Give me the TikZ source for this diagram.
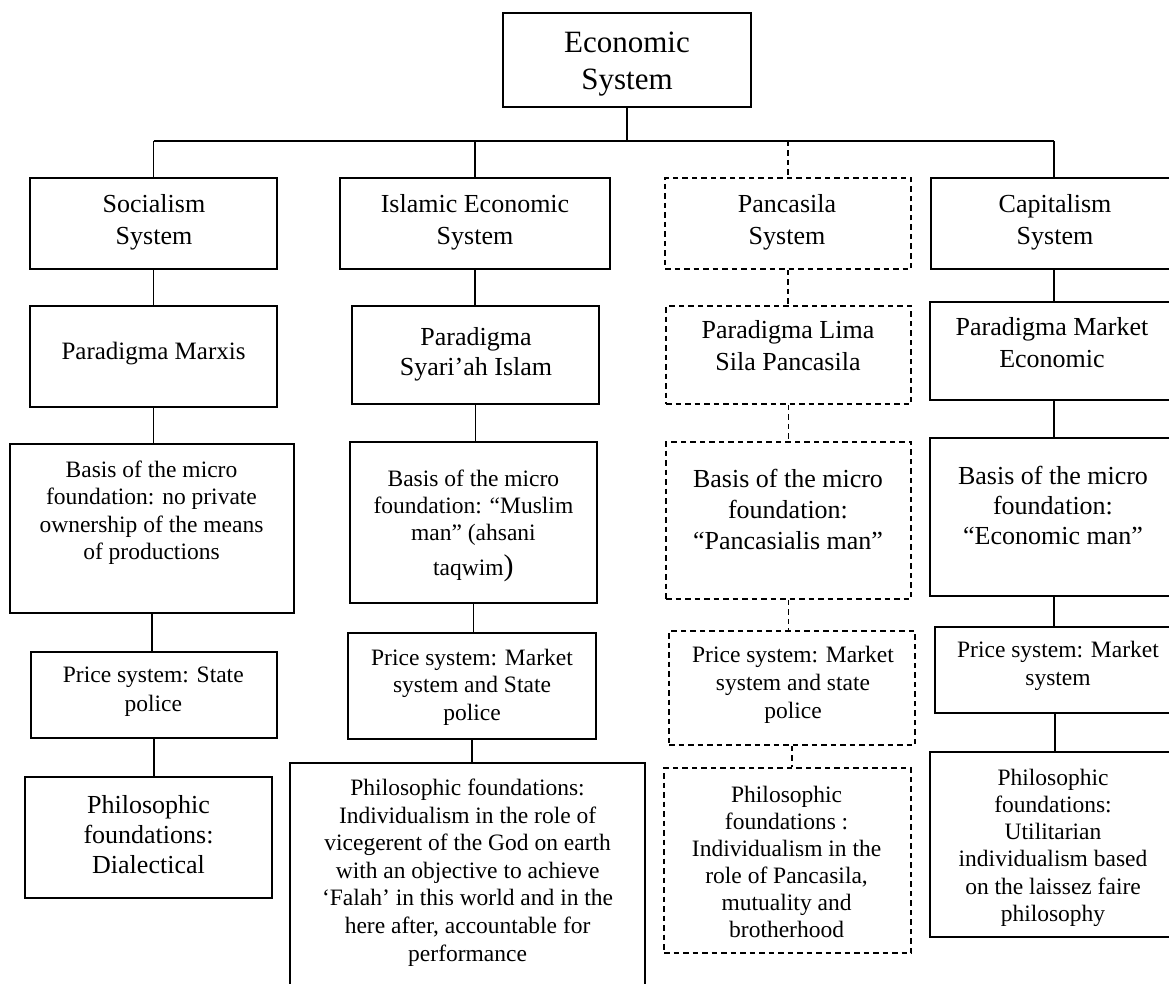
\documentclass[tikz,border=0pt]{standalone}
\usepackage{fontspec}
\setmainfont{Liberation Serif}
\newcommand{\fs}[2]{\fontsize{#1}{#2}\selectfont}
\begin{document}
\begin{tikzpicture}[x=1pt,y=-1pt,
  box/.style={draw, line width=1.5pt, inner sep=0pt, rectangle},
  dbox/.style={box, dash pattern=on 5.5pt off 4pt},
  txt/.style={inner sep=0pt, align=center, anchor=north},
  conn/.style={line width=1.2pt},
  dconn/.style={line width=1.3pt, dash pattern=on 5.5pt off 4pt},
  bus/.style={line width=1.7pt}]
\useasboundingbox (0,0) rectangle (1169,984);
\clip (0,0) rectangle (1169,984);
% boxes
\node[box, minimum width=248pt, minimum height=94pt] (eco) at (627,60) {};
\node[box, minimum width=247pt, minimum height=91pt] (soc1) at (153.5,223.5) {};
\node[box, minimum width=270pt, minimum height=91pt] (isl1) at (475,223.5) {};
\node[dbox, minimum width=246pt, minimum height=91pt] (pan1) at (788,223.5) {};
\node[box, minimum width=246pt, minimum height=91pt] (cap1) at (1054,223.5) {};
\node[box, minimum width=247pt, minimum height=101pt] (soc2) at (153.5,356.5) {};
\node[box, minimum width=247pt, minimum height=98pt] (isl2) at (475.5,355) {};
\node[dbox, minimum width=245pt, minimum height=98pt] (pan2) at (788.5,355) {};
\node[box, minimum width=248pt, minimum height=98pt] (cap2) at (1054,351) {};
\node[box, minimum width=284pt, minimum height=169pt] (soc3) at (152,528.5) {};
\node[box, minimum width=247pt, minimum height=161pt] (isl3) at (473.5,522.5) {};
\node[dbox, minimum width=245pt, minimum height=157pt] (pan3) at (788.5,520.5) {};
\node[box, minimum width=248pt, minimum height=158pt] (cap3) at (1054,517) {};
\node[box, minimum width=246pt, minimum height=86pt] (soc4) at (154,695) {};
\node[box, minimum width=248pt, minimum height=106pt] (isl4) at (472,686) {};
\node[dbox, minimum width=246pt, minimum height=114pt] (pan4) at (792,688) {};
\node[box, minimum width=240pt, minimum height=86pt] (cap4) at (1055,670) {};
\node[box, minimum width=247pt, minimum height=121pt] (soc5) at (148.5,837.5) {};
\node[box, minimum width=355pt, minimum height=237pt] (isl5) at (467.5,881.5) {};
\node[dbox, minimum width=247pt, minimum height=185pt] (pan5) at (787.5,860.5) {};
\node[box, minimum width=248pt, minimum height=185pt] (cap5) at (1054,844.5) {};
% texts
\node[txt, font=\fs{31}{37}] (ecot) at (627,31.6) {Economic\\System};
\node[txt, font=\fs{26}{32}] (soc1t) at (154,194.1) {Socialism\\System};
\node[txt, font=\fs{26}{32}] (isl1t) at (475,194.1) {Islamic Economic\\System};
\node[txt, font=\fs{26}{32}] (pan1t) at (787,194.1) {Pancasila\\System};
\node[txt, font=\fs{26}{32}] (cap1t) at (1055,194.1) {Capitalism\\System};
\node[txt, font=\fs{25}{30}] (soc2t) at (153.5,341.7) {Paradigma Marxis};
\node[txt, font=\fs{26}{30}] (isl2t) at (476,327.1) {Paradigma\\Syari’ah Islam};
\node[txt, font=\fs{26}{32}] (pan2t) at (788,320.1) {Paradigma Lima\\Sila Pancasila};
\node[txt, font=\fs{26}{31.7}] (cap2t) at (1052,317.1) {Paradigma Market\\Economic};
\node[txt, font=\fs{23.5}{27.5}] (soc3t) at (151.5,460.5) {Basis of the micro\\foundation: no private\\ownership of the means\\of productions};
\node[txt, font=\fs{23.5}{27.3}] (isl3t) at (473.4,469.5) {Basis of the micro\\foundation: “Muslim\\man” (ahsani\\[7pt]taqwim{\fs{30}{30})}};
\node[txt, font=\fs{26}{31}] (pan3t) at (788,468.8) {Basis of the micro\\foundation:\\“Pancasialis man”};
\node[txt, font=\fs{26}{29.8}] (cap3t) at (1053,466.4) {Basis of the micro\\foundation:\\“Economic man”};
\node[txt, font=\fs{23.5}{28.4}] (soc4t) at (153.3,667.1) {Price system: State\\police};
\node[txt, font=\fs{23.5}{27.5}] (isl4t) at (472,648.8) {Price system: Market\\system and State\\police};
\node[txt, font=\fs{23.5}{28}] (pan4t) at (793,645.8) {Price system: Market\\system and state\\police};
\node[txt, font=\fs{23.5}{28}] (cap4t) at (1058,640.8) {Price system: Market\\system};
\node[txt, font=\fs{26}{30}] (soc5t) at (148.5,795.4) {Philosophic\\foundations:\\Dialectical};
\node[txt, font=\fs{23.5}{27.6}] (isl5t) at (467.6,778.8) {Philosophic foundations:\\Individualism in the role of\\vicegerent of the God on earth\\with an objective to achieve\\‘Falah’ in this world and in the\\here after, accountable for\\performance};
\node[txt, font=\fs{23.5}{27}] (pan5t) at (786.6,785.5) {Philosophic\\foundations :\\Individualism in the\\role of Pancasila,\\mutuality and\\brotherhood};
\node[txt, font=\fs{23.5}{27.2}] (cap5t) at (1053,768.8) {Philosophic\\foundations:\\Utilitarian\\individualism based\\on the laissez faire\\philosophy};
% bus
\coordinate (bus) at (627,141);
\draw[conn] (eco.south) -- (bus);
\draw[bus] (soc1.north |- bus) -- (cap1.north |- bus);
\draw[conn] (soc1.north |- bus) -- (soc1.north);
\draw[conn] (isl1.north |- bus) -- (isl1.north);
\draw[dconn] (pan1.north |- bus) -- (pan1.north);
\draw[conn] (cap1.north |- bus) -- (cap1.north);
% columns
\foreach \a/\b in {soc1/soc2,soc2/soc3,soc3/soc4,soc4/soc5,isl1/isl2,isl2/isl3,isl3/isl4,isl4/isl5,cap1/cap2,cap2/cap3,cap3/cap4,cap4/cap5}
  \draw[conn] (\a.south) -- (\a.south |- \b.north);
\foreach \a/\b in {pan1/pan2,pan2/pan3,pan3/pan4,pan4/pan5}
  \draw[dconn] (\a.south) -- (\a.south |- \b.north);
\end{tikzpicture}
\end{document}
